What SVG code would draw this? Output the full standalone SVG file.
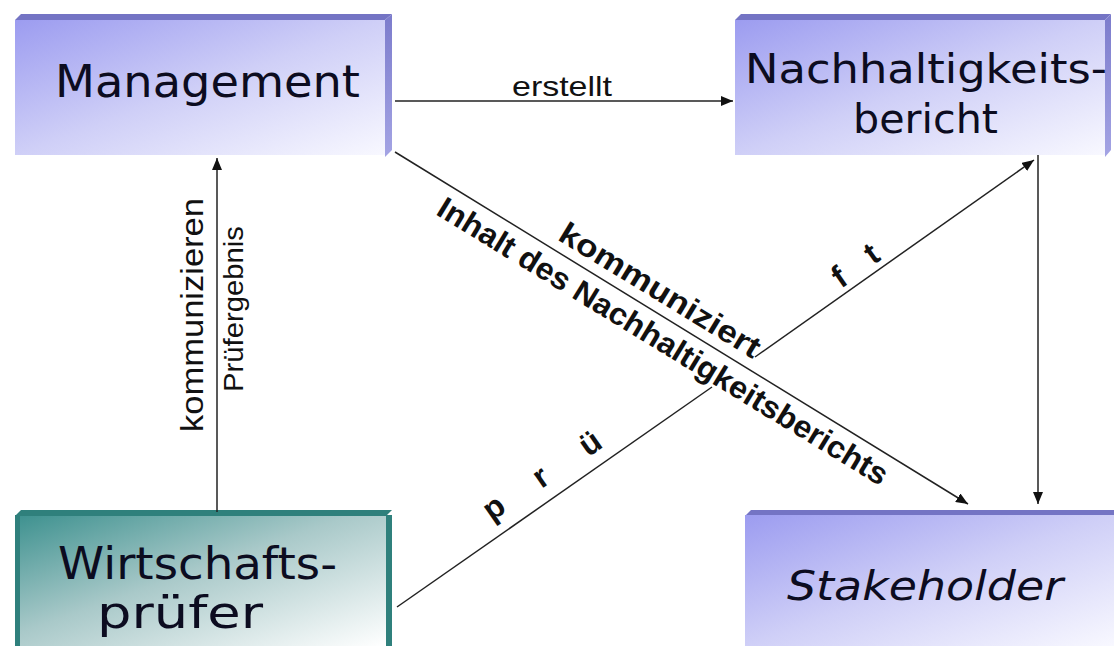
<svg xmlns="http://www.w3.org/2000/svg" width="1114" height="646" viewBox="0 0 1114 646">
<defs>
<linearGradient id="gPurple" x1="0" y1="0" x2="1" y2="1">
<stop offset="0" stop-color="#9c9cf0"/>
<stop offset="0.5" stop-color="#cfcff7"/>
<stop offset="1" stop-color="#f8f8ff"/>
</linearGradient>
<linearGradient id="gTeal" x1="0" y1="0" x2="1" y2="1">
<stop offset="0" stop-color="#3f9290"/>
<stop offset="0.45" stop-color="#a9c9c9"/>
<stop offset="1" stop-color="#ffffff"/>
</linearGradient>
<linearGradient id="gSide" x1="0" y1="0" x2="0" y2="1">
<stop offset="0" stop-color="#7c7ccc"/>
<stop offset="1" stop-color="#a4a4e4"/>
</linearGradient>
<marker id="arr" markerUnits="userSpaceOnUse" markerWidth="13" markerHeight="10" refX="12" refY="5" orient="auto">
<path d="M0,0 L12,5 L0,10 z" fill="#111"/>
</marker>
<style>
.node{font-family:"DejaVu Sans",Verdana,sans-serif;fill:#0c0c20}
.lbl{font-family:"Liberation Sans",Arial,sans-serif;fill:#111}
.b{font-weight:bold}
.ln{stroke:#222;stroke-width:1.5;fill:none}
.topP{fill:#7474c4}
.topT{fill:#2f807c}
</style>
</defs>
<rect width="1114" height="646" fill="#ffffff"/>

<g id="node-management">
<polygon class="topP" points="15,20 21,14 392,14 385,20"/>
<polygon fill="url(#gSide)" points="385,20 392,14 392,150 385,157"/>
<rect x="15" y="20" width="370" height="135" fill="url(#gPurple)"/>
<text class="node" x="55" y="97" font-size="44" textLength="305" lengthAdjust="spacingAndGlyphs">Management</text>
</g>

<g id="node-bericht">
<polygon class="topP" points="735,20 741,14 1111,14 1105,20"/>
<polygon fill="url(#gSide)" points="1105,20 1111,14 1111,150 1105,157"/>
<rect x="735" y="20" width="370" height="135" fill="url(#gPurple)"/>
<text class="node" x="745" y="83" font-size="41" textLength="362" lengthAdjust="spacingAndGlyphs">Nachhaltigkeits-</text>
<text class="node" x="853" y="133" font-size="41" textLength="145" lengthAdjust="spacingAndGlyphs">bericht</text>
</g>

<g id="node-wirtschaftspruefer">
<polygon class="topT" points="15,516 21,510 392,510 386,516"/>
<rect x="15" y="515" width="377" height="131" fill="#2f807c"/>
<rect x="20" y="516" width="366" height="130" fill="url(#gTeal)"/>
<text class="node" x="58" y="579" font-size="45" textLength="279" lengthAdjust="spacingAndGlyphs">Wirtschafts-</text>
<text class="node" x="97" y="628" font-size="45" textLength="166" lengthAdjust="spacingAndGlyphs">prüfer</text>
</g>

<g id="node-stakeholder">
<polygon class="topP" points="745,516 751,510 1114,510 1114,516"/>
<rect x="745" y="515" width="369" height="131" fill="url(#gPurple)"/>
<text class="node" x="787" y="600" font-size="41" font-style="italic" textLength="276" lengthAdjust="spacingAndGlyphs">Stakeholder</text>
</g>

<g id="connectors">
<line class="ln" x1="395" y1="101" x2="733" y2="101" marker-end="url(#arr)"/>
<line class="ln" x1="217" y1="512" x2="217" y2="158" marker-end="url(#arr)"/>
<line class="ln" x1="1038" y1="155" x2="1038" y2="504" marker-end="url(#arr)"/>
<line class="ln" x1="395" y1="152" x2="968" y2="504" marker-end="url(#arr)"/>
<line class="ln" x1="397" y1="607" x2="712" y2="387"/>
<line class="ln" x1="755" y1="357" x2="1034" y2="160" marker-end="url(#arr)"/>
</g>

<g id="labels">
<text class="lbl" x="512" y="96" font-size="28" textLength="100" lengthAdjust="spacingAndGlyphs">erstellt</text>
<text class="lbl" transform="translate(203,315) rotate(-90)" text-anchor="middle" font-size="31" textLength="234" lengthAdjust="spacingAndGlyphs">kommunizieren</text>
<text class="lbl" transform="translate(243,309) rotate(-90)" text-anchor="middle" font-size="27" textLength="166" lengthAdjust="spacingAndGlyphs">Prüfergebnis</text>
<g transform="translate(393,152) rotate(31.45)">
<text class="lbl b" x="185" y="-11" font-size="31" textLength="230" lengthAdjust="spacingAndGlyphs">kommuniziert</text>
<text class="lbl b" x="68" y="31" font-size="31" textLength="522" lengthAdjust="spacingAndGlyphs">Inhalt des Nachhaltigkeitsberichts</text>
</g>
<text class="lbl b" transform="translate(497,512) rotate(-35)" text-anchor="middle" y="5" font-size="32">p</text>
<text class="lbl b" transform="translate(542,479) rotate(-35)" text-anchor="middle" y="8" font-size="32">r</text>
<text class="lbl b" transform="translate(590,443) rotate(-35)" text-anchor="middle" y="11" font-size="32">ü</text>
<text class="lbl b" transform="translate(839,277) rotate(-35)" text-anchor="middle" y="11" font-size="32">f</text>
<text class="lbl b" transform="translate(872,254) rotate(-35)" text-anchor="middle" y="10" font-size="32">t</text>
</g>
</svg>
